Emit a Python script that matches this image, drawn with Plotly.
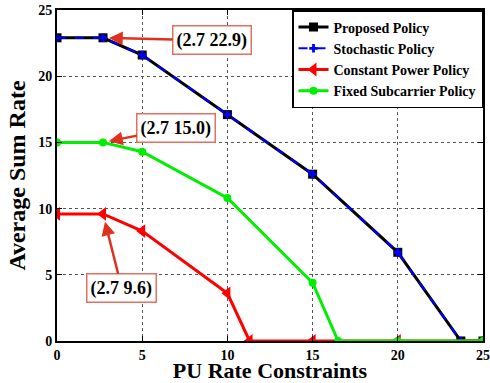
import plotly.graph_objects as go

x_prop = [0, 2.7, 5, 10, 15, 20, 23.7, 25]
y_prop = [22.9, 22.9, 21.6, 17.1, 12.6, 6.7, 0, 0]
x_stoch = [0, 2.7, 5, 10, 15, 20, 23.7, 25]
y_stoch = [22.9, 22.9, 21.6, 17.1, 12.6, 6.7, 0, 0]
x_const = [0, 2.7, 5, 10, 11.3, 15, 20, 25]
y_const = [9.6, 9.6, 8.3, 3.6, 0, 0, 0, 0]
x_fixed = [0, 2.7, 5, 10, 15, 16.5, 20, 25]
y_fixed = [15.0, 15.0, 14.3, 10.8, 4.4, 0, 0, 0]

font_fam = "Liberation Serif, Times New Roman, serif"

fig = go.Figure()
fig.add_trace(go.Scatter(x=x_prop, y=y_prop, name="Proposed Policy", mode="lines+markers",
                         line=dict(color="black", width=3),
                         marker=dict(symbol="square", size=9, color="black")))
fig.add_trace(go.Scatter(x=x_stoch, y=y_stoch, name="Stochastic Policy", mode="lines+markers",
                         line=dict(color="blue", width=2, dash="dash"),
                         marker=dict(symbol="cross", size=7, color="blue")))
fig.add_trace(go.Scatter(x=x_const, y=y_const, name="Constant Power Policy", mode="lines+markers",
                         line=dict(color="red", width=3),
                         marker=dict(symbol="triangle-left", size=12, color="red")))
fig.add_trace(go.Scatter(x=x_fixed, y=y_fixed, name="Fixed Subcarrier Policy", mode="lines+markers",
                         line=dict(color="#00ee00", width=3),
                         marker=dict(symbol="circle", size=8, color="#00ee00")))

ann_style = dict(xref="x", yref="y", axref="x", ayref="y", showarrow=True,
                 arrowhead=2, arrowsize=1.1, arrowwidth=2.5, arrowcolor="#e0301e",
                 bordercolor="#e07060", borderwidth=1.5, borderpad=3, bgcolor="white",
                 font=dict(family=font_fam, size=18, color="black"))
fig.add_annotation(x=2.7, y=22.9, ax=9.1, ay=22.7, text="<b>(2.7 22.9)</b>", standoff=6, **ann_style)
fig.add_annotation(x=2.7, y=15.0, ax=7.0, ay=16.1, text="<b>(2.7 15.0)</b>", standoff=6, **ann_style)
fig.add_annotation(x=2.7, y=9.6, ax=3.8, ay=4.0, text="<b>(2.7 9.6)</b>", standoff=8, **ann_style)

axis_common = dict(showline=True, linecolor="black", linewidth=2, mirror="ticks",
                   ticks="inside", ticklen=5, tickcolor="black",
                   showgrid=True, gridcolor="#555555", griddash="dot", gridwidth=1,
                   zeroline=False, automargin=False, ticklabeloverflow="allow",
                   tickfont=dict(family=font_fam, size=14, color="black", weight="bold"))

fig.update_layout(
    width=490, height=383,
    margin=dict(l=57, r=7, t=10, b=42),
    plot_bgcolor="white", paper_bgcolor="white",
    font=dict(family=font_fam, color="black"),
    xaxis=dict(range=[0, 25], tickvals=[0, 5, 10, 15, 20, 25], **axis_common,
               title=dict(text="<b>PU Rate Constraints</b>", font=dict(family=font_fam, size=22), standoff=5)),
    yaxis=dict(range=[0, 25], tickvals=[0, 5, 10, 15, 20, 25], **axis_common,
               title=dict(text="<b>Average Sum Rate</b>", font=dict(family=font_fam, size=24), standoff=6)),
    legend=dict(x=1.0, y=1.0, xanchor="right", yanchor="top",
                bgcolor="white", bordercolor="black", borderwidth=1.5,
                font=dict(family=font_fam, size=14, color="black", weight="bold"),
                tracegroupgap=0),
    showlegend=True,
)

fig.write_html("out.html", config={"displayModeBar": False},
               post_script="document.body.style.margin='0';")
